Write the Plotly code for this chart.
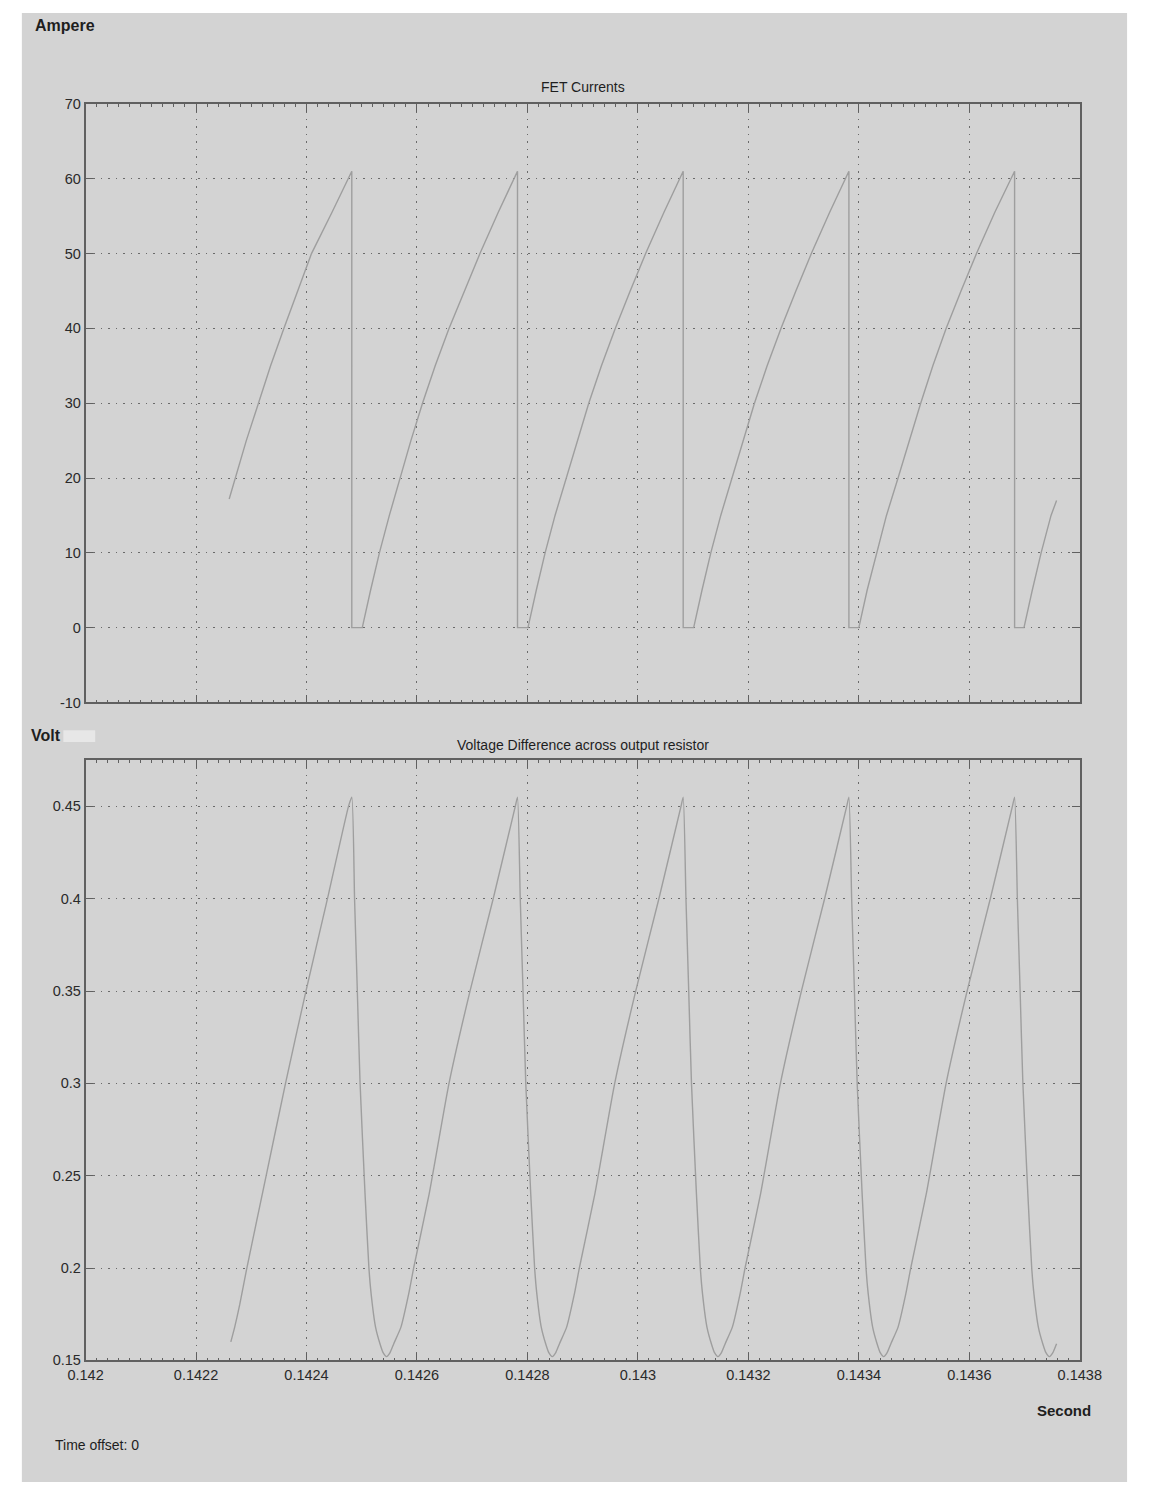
import plotly.graph_objects as go

# ---- FET current (A) vs time (s) ----
fet_time = [
    0.142260, 0.142271, 0.142291, 0.142313, 0.142335, 0.142359, 0.142384, 0.142409, 0.142446, 0.142482,
    0.142482, 0.142501,
    0.142516, 0.142532, 0.142550, 0.142569, 0.142589, 0.142610, 0.142633, 0.142658, 0.142686, 0.142714, 0.142747, 0.142782,
    0.142782, 0.142801,
    0.142816, 0.142832, 0.142850, 0.142870, 0.142890, 0.142911, 0.142934, 0.142959, 0.142986, 0.143014, 0.143047, 0.143082,
    0.143082, 0.143101,
    0.143116, 0.143132, 0.143150, 0.143170, 0.143190, 0.143211, 0.143234, 0.143259, 0.143286, 0.143314, 0.143347, 0.143382,
    0.143382, 0.143400,
    0.143415, 0.143432, 0.143450, 0.143471, 0.143491, 0.143512, 0.143534, 0.143558, 0.143585, 0.143613, 0.143646, 0.143682,
    0.143682, 0.143699,
    0.143714, 0.143730, 0.143748, 0.143758,
]
fet_current = [
    17.2, 20, 25, 30, 35, 40, 45, 50, 55.5, 61,
    0, 0,
    5, 10, 15, 20, 25, 30, 35, 40, 45, 50, 55.5, 61,
    0, 0,
    5, 10, 15, 20, 25, 30, 35, 40, 45, 50, 55.5, 61,
    0, 0,
    5, 10, 15, 20, 25, 30, 35, 40, 45, 50, 55.5, 61,
    0, 0,
    5, 10, 15, 20, 25, 30, 35, 40, 45, 50, 55.5, 61,
    0, 0,
    5, 10, 15, 17.0,
]

# ---- Voltage across output resistor (V) vs time (s) ----
volt_time = [
    0.142263, 0.142270, 0.142279, 0.142292, 0.142327, 0.142362, 0.142399, 0.142438, 0.142476, 0.142482,
    0.142487, 0.142492, 0.142497, 0.142506, 0.142513, 0.142517, 0.142525, 0.142533, 0.142539, 0.142545,
    0.142551, 0.142558, 0.142571, 0.142585, 0.142594, 0.142622, 0.142658, 0.142696, 0.142738, 0.142778, 0.142782,
    0.142787, 0.142792, 0.142797, 0.142806, 0.142813, 0.142817, 0.142825, 0.142833, 0.142839, 0.142845,
    0.142851, 0.142858, 0.142871, 0.142885, 0.142894, 0.142922, 0.142958, 0.142996, 0.143038, 0.143078, 0.143082,
    0.143087, 0.143092, 0.143097, 0.143106, 0.143113, 0.143117, 0.143125, 0.143133, 0.143139, 0.143145,
    0.143151, 0.143158, 0.143171, 0.143185, 0.143194, 0.143222, 0.143258, 0.143296, 0.143338, 0.143378, 0.143382,
    0.143387, 0.143392, 0.143397, 0.143406, 0.143413, 0.143417, 0.143425, 0.143433, 0.143439, 0.143445,
    0.143451, 0.143458, 0.143471, 0.143485, 0.143494, 0.143522, 0.143558, 0.143596, 0.143638, 0.143678, 0.143682,
    0.143687, 0.143692, 0.143697, 0.143706, 0.143713, 0.143717, 0.143725, 0.143733, 0.143739, 0.143745,
    0.143751, 0.143758,
]
volt_value = [
    0.160, 0.168, 0.180, 0.200, 0.250, 0.300, 0.350, 0.400, 0.450, 0.455,
    0.400, 0.350, 0.300, 0.240, 0.200, 0.186, 0.168, 0.159, 0.154, 0.152,
    0.154, 0.159, 0.168, 0.186, 0.200, 0.240, 0.300, 0.350, 0.400, 0.450, 0.455,
    0.400, 0.350, 0.300, 0.240, 0.200, 0.186, 0.168, 0.159, 0.154, 0.152,
    0.154, 0.159, 0.168, 0.186, 0.200, 0.240, 0.300, 0.350, 0.400, 0.450, 0.455,
    0.400, 0.350, 0.300, 0.240, 0.200, 0.186, 0.168, 0.159, 0.154, 0.152,
    0.154, 0.159, 0.168, 0.186, 0.200, 0.240, 0.300, 0.350, 0.400, 0.450, 0.455,
    0.400, 0.350, 0.300, 0.240, 0.200, 0.186, 0.168, 0.159, 0.154, 0.152,
    0.154, 0.159, 0.168, 0.186, 0.200, 0.240, 0.300, 0.350, 0.400, 0.450, 0.455,
    0.400, 0.350, 0.300, 0.240, 0.200, 0.186, 0.168, 0.159, 0.154, 0.152,
    0.154, 0.159,
]

x_tick_vals = [0.142, 0.1422, 0.1424, 0.1426, 0.1428, 0.143, 0.1432, 0.1434, 0.1436, 0.1438]
x_tick_text = ["0.142", "0.1422", "0.1424", "0.1426", "0.1428", "0.143",
               "0.1432", "0.1434", "0.1436", "0.1438"]
amp_ticks = [-10, 0, 10, 20, 30, 40, 50, 60, 70]
amp_tick_text = ["-10", "0", "10", "20", "30", "40", "50", "60", "70"]
volt_ticks = [0.15, 0.2, 0.25, 0.3, 0.35, 0.4, 0.45]
volt_tick_text = ["0.15", "0.2", "0.25", "0.3", "0.35", "0.4", "0.45"]

W, H = 1151, 1492
BG = "#d3d3d3"
AXIS = "#606060"
GRID = "#6a6a6a"
TRACE = "#9e9e9e"
FONT = "Liberation Sans, Arial, sans-serif"

fig = go.Figure()
fig.add_trace(go.Scatter(x=fet_time, y=fet_current, mode="lines",
                         line=dict(color=TRACE, width=1.4),
                         xaxis="x", yaxis="y", showlegend=False, hoverinfo="skip"))
fig.add_trace(go.Scatter(x=volt_time, y=volt_value, mode="lines",
                         line=dict(color=TRACE, width=1.4, shape="spline", smoothing=0.5),
                         xaxis="x2", yaxis="y2", showlegend=False, hoverinfo="skip"))


def px_x(p):
    return p / W


def px_y(p):
    return 1 - p / H


def axis_style(**extra):
    style = dict(
        showline=True, linecolor=AXIS, linewidth=1.6, mirror="allticks",
        ticks="inside", ticklen=8, tickwidth=1.4, tickcolor=AXIS,
        showgrid=True, gridcolor=GRID, gridwidth=1.2, griddash="1.5px,6px",
        zeroline=False, tickfont=dict(family=FONT, size=14.5, color="#2a2a2a"),
    )
    style.update(extra)
    return style


x_minor = dict(ticks="inside", ticklen=3, tickcolor=AXIS, dtick=0.00002, showgrid=False)


# right-hand axes carry only the short minor ticks
def right_minor(overlay, anchor, rng, dt):
    return dict(overlaying=overlay, anchor=anchor, side="right", range=rng,
                showgrid=False, zeroline=False, showline=False, showticklabels=False,
                ticks="", minor=dict(ticks="inside", ticklen=3, tickcolor=AXIS, dtick=dt,
                                     showgrid=False))


fig.update_layout(
    width=W, height=H,
    margin=dict(l=0, r=0, t=0, b=0),
    paper_bgcolor="white",
    plot_bgcolor=BG,
    xaxis=axis_style(domain=[px_x(70), px_x(1100)], range=[0.142, 0.1438], anchor="y",
                     tickvals=x_tick_vals, showticklabels=False, minor=x_minor),
    yaxis=axis_style(domain=[px_y(702), px_y(97)], range=[-10, 70], anchor="x",
                     tickvals=amp_ticks, ticktext=amp_tick_text),
    xaxis2=axis_style(domain=[px_x(70), px_x(1100)], range=[0.142, 0.1438], anchor="y2",
                      tickvals=x_tick_vals, ticktext=x_tick_text, minor=x_minor),
    yaxis2=axis_style(domain=[px_y(1367), px_y(760)], range=[0.15, 0.4752], anchor="x2",
                      tickvals=volt_ticks, ticktext=volt_tick_text),
    yaxis3=right_minor("y", "x", [-10, 70], 1),
    yaxis4=right_minor("y2", "x2", [0.15, 0.4752], 0.005),
    font=dict(family=FONT, color="#222222"),
)

# grey window background behind everything
fig.add_shape(type="rect", xref="paper", yref="paper",
              x0=px_x(4), x1=px_x(1149), y0=px_y(1490), y1=px_y(5),
              fillcolor=BG, line=dict(width=0), layer="below")
# light smudge next to the "Volt" label
fig.add_shape(type="rect", xref="paper", yref="paper",
              x0=px_x(47), x1=px_x(80), y0=px_y(742), y1=px_y(730),
              fillcolor="rgba(236,236,236,0.8)", line=dict(width=0), layer="above")


def label(text, x, y, size=13, bold=False, anchor="left"):
    fig.add_annotation(text=f"<b>{text}</b>" if bold else text,
                       xref="paper", yref="paper", x=px_x(x), y=px_y(y),
                       xanchor=anchor, yanchor="middle", showarrow=False,
                       font=dict(family=FONT, size=size, color="#1e1e1e"))


label("Ampere", 16, 18, size=16, bold=True)
label("FET Currents", 585, 80, size=14, anchor="center")
label("Volt", 11, 735, size=16, bold=True)
label("Voltage Difference across output resistor", 585, 745, size=14, anchor="center")
label("Second", 1084, 1418, size=15, bold=True, anchor="center")
label("Time offset: 0", 36, 1453, size=14)

fig.write_html("out.html")
